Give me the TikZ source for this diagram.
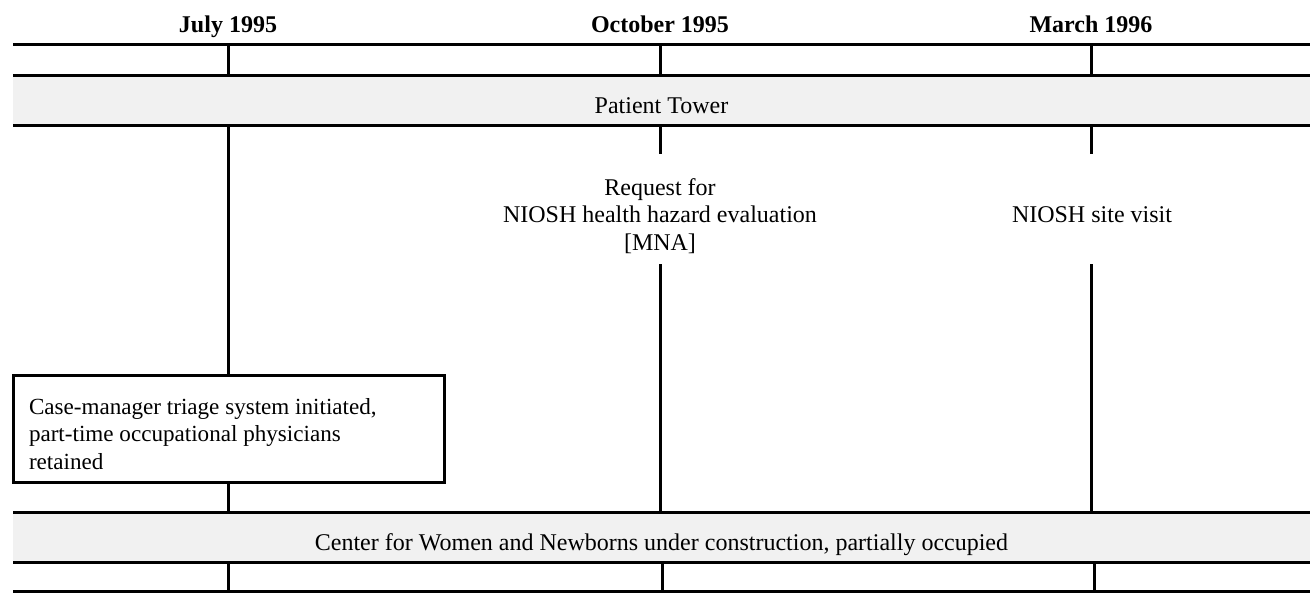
\documentclass[tikz,border=0pt]{standalone}
\usepackage{fontspec}
\setmainfont{Liberation Serif}
\usetikzlibrary{positioning}
\definecolor{bandgray}{HTML}{F1F1F1}

\begin{document}
\begin{tikzpicture}[x=1pt,y=-1pt,line width=3pt,
        every node/.style={outer sep=0pt},
        font=\fontsize{24}{27.8}\selectfont,
        month/.style={anchor=base,font=\fontsize{24}{27.8}\selectfont\bfseries},
        band/.style={fill=bandgray,minimum width=1297pt,inner ysep=0pt,text height=38pt,text depth=12pt},
        event/.style={align=center,inner sep=0pt},
        note/.style={draw,anchor=north west,align=flush left,text width=399pt,inner xsep=16pt,inner ysep=0pt,
          text height=39pt,text depth=68pt,font=\fontsize{23.1}{27.8}\selectfont}]
    \useasboundingbox (0,0) rectangle (1310,597);
        \node[month] (jul) at (228,32) {July 1995};
        \node[month] (oct) at (660,32) {October 1995};
        \node[month] (mar) at (1091,32) {March 1996};
        \node[band] (tower) at (661.5,100) {Patient Tower};
        \node[band] (cwn) at (661.5,537.5) {Center for Women and Newborns under construction, partially occupied};
        \node[note] (triage) at (13,375) {Case-manager triage system initiated,\\part-time occupational physicians\\retained};
        \node[event] (request) at (660,216) {Request for\\NIOSH health hazard evaluation\\{[MNA]}};
        \node[event] (visit) at (1092,214.5) {NIOSH site visit};
        \coordinate (top w) at (13,44);
        \coordinate (top e) at (1310,44);
        \coordinate (bot w) at (13,591);
        \coordinate (bot e) at (1310,591);
        \coordinate (request a) at (660,154);
        \coordinate (request b) at (660,264);
        \coordinate (visit a) at (1091,154);
        \coordinate (visit b) at (1091,264);
        \draw (top w) -- (top e)
        (tower.north west) -- (tower.north east)
        (tower.south west) -- (tower.south east)
        (cwn.north west) -- (cwn.north east)
        (cwn.south west) -- (cwn.south east)
        (bot w) -- (bot e);
        \foreach \m/\s in {jul/0,oct/2,mar/3}
        \draw (\m |- top w) -- (\m |- tower.north)
        ([xshift=\s pt]\m |- cwn.south) -- ([xshift=\s pt]\m |- bot w);
        \draw (jul |- tower.south) -- (jul |- triage.north)
        (jul |- triage.south) -- (jul |- cwn.north)
        (oct |- tower.south) -- (request a)
        (request b) -- (oct |- cwn.north)
        (mar |- tower.south) -- (visit a)
        (visit b) -- (mar |- cwn.north);
    \end{tikzpicture}
\end{document}
